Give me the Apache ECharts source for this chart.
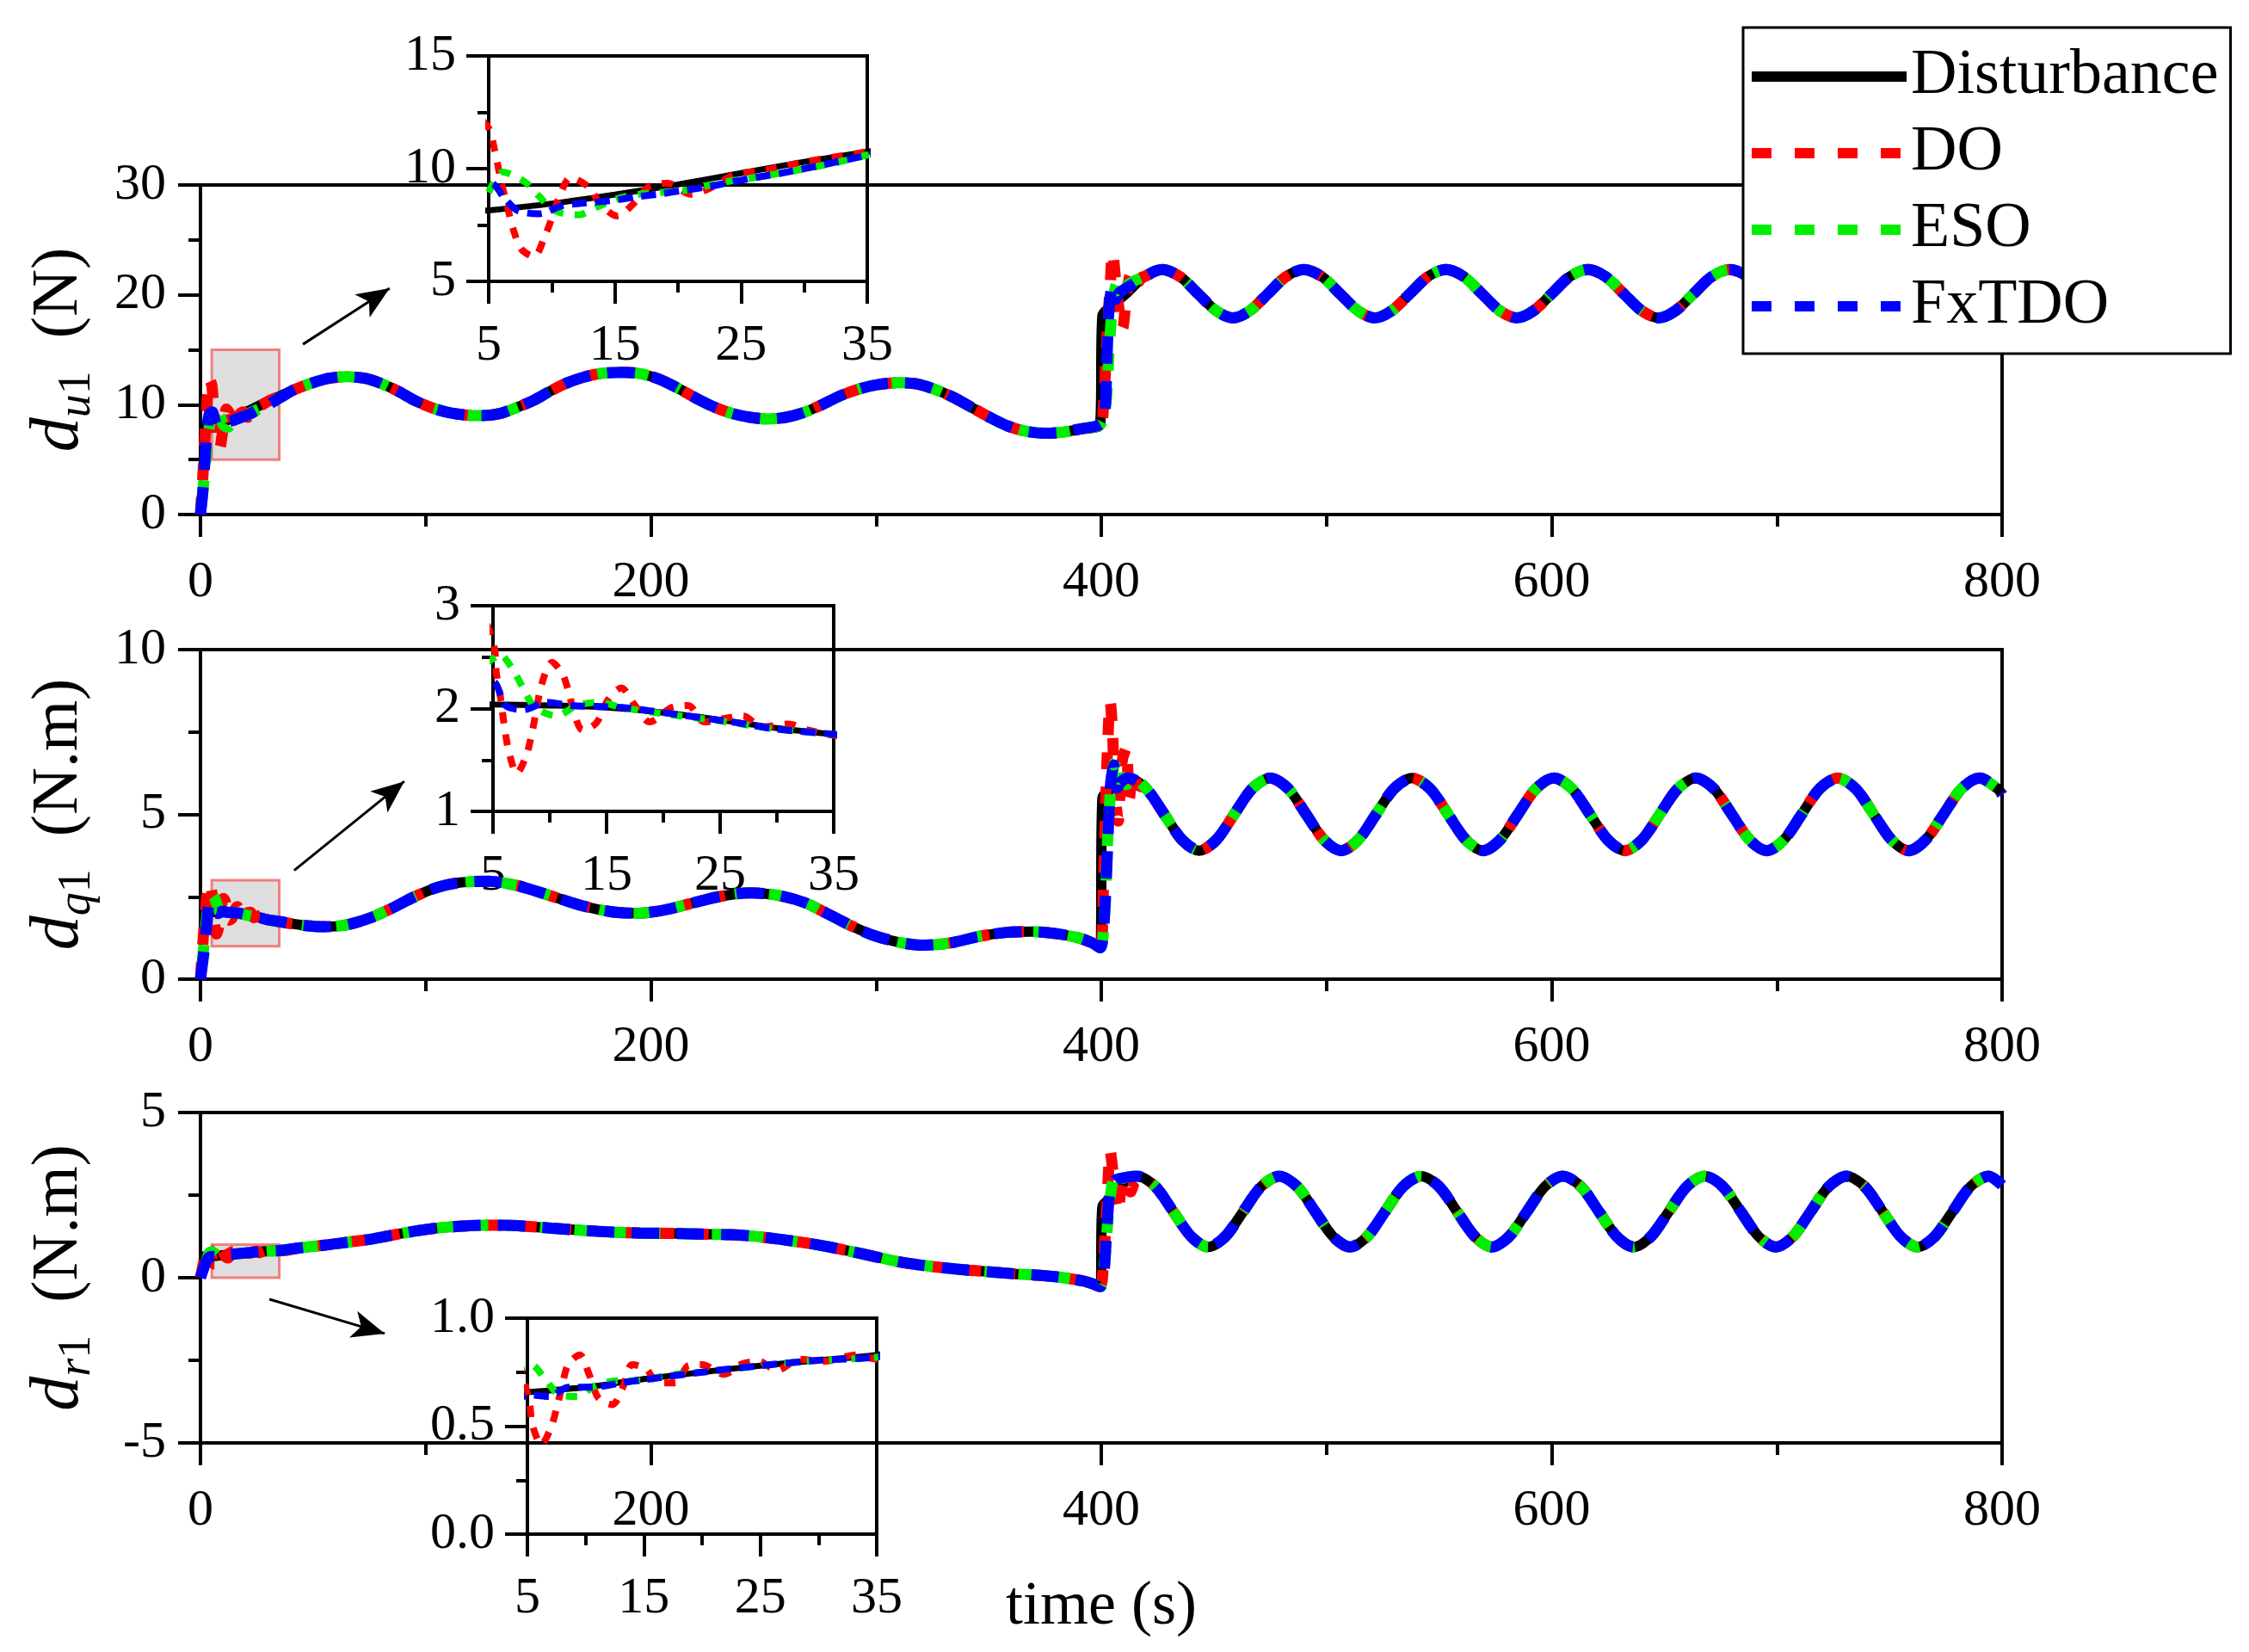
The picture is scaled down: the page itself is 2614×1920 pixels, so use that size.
<!DOCTYPE html>
<html>
<head>
<meta charset="utf-8">
<script src="https://cdn.jsdelivr.net/npm/echarts@6/dist/echarts.min.js"></script>
<style>
  html, body { margin: 0; padding: 0; background: #fff; }
  #chart { width: 2614px; height: 1920px; }
</style>
</head>
<body>
<div id="chart"></div>
<script>
const FONT = 'Liberation Serif';
const names = ['Disturbance', 'DO', 'ESO', 'FxTDO'];
const colors = ['#000000', '#ff0000', '#00ee00', '#0000ff'];

// ---- d_u1 (N) ----
const tU = [0,5,10,15,20,25,30,35,42,50,57,65,73,80,88,95,103,110,118,125,133,140,148,155,163,170,178,188,196,204,212,220,228,236,244,252,260,268,276,284,292,300,310,318,326,334,342,350,358,366,375,383,391,399.5,
  400.5,404,411,419,427,435,443,451,458.5,466,474,482,490,498,506,514,521.5,529,537,545,553,561,569,577,584.5,592,600,608,616,624,632,640,647.5,655,663,671,679,687,695,703,710.5,718,726,734,742,750,758,766,773.5,781,789,797,800];
const distU = [7.9,8.15,8.45,8.85,9.3,9.8,10.3,10.75,11.4,12.0,12.4,12.55,12.4,11.95,11.2,10.4,9.7,9.3,9.05,9.0,9.2,9.7,10.4,11.2,12.0,12.5,12.85,12.95,12.8,12.3,11.5,10.6,9.8,9.2,8.85,8.7,8.85,9.3,10.0,10.8,11.4,11.8,12.0,11.9,11.4,10.7,9.8,8.9,8.1,7.6,7.4,7.5,7.8,8.2,
  18.1,18.9,20.1,21.65,22.3,21.65,20.1,18.55,17.9,18.55,20.1,21.65,22.3,21.65,20.1,18.55,17.9,18.55,20.1,21.65,22.3,21.65,20.1,18.55,17.9,18.55,20.1,21.65,22.3,21.65,20.1,18.55,17.9,18.55,20.1,21.65,22.3,21.65,20.1,18.55,17.9,18.55,20.1,21.65,22.3,21.65,20.1,18.55,17.9,18.55,20.1,21.65,21.95];
const doU0 = [[0,0],[1.5,5],[3,10.5],[4,12.3],[5,11.8],[5.5,10.74],[6,9.4],[6.5,8.27],[6.95,7.3],[7.6,6.42],[8.6,6.1],[9.4,6.93],[10.1,7.95],[10.6,8.77],[11.5,9.6],[13,9.15],[13.8,8.46],[15.2,7.9],[16.5,8.46],[17.7,9.2],[19.2,9.35],[21,8.86],[22.4,9.1],[24.5,9.73],[27,9.95],[30,10.3],[35,10.75]];
const esoU0 = [[0,0],[1.5,3],[2.5,5.3],[3.5,7.5],[5,8.96],[6.1,9.85],[7.9,9.4],[9,8.77],[10.2,8.14],[12.1,7.95],[13.6,8.3],[15.2,8.67],[17,8.87],[19,8.96],[21.3,9.1],[23.1,9.35],[26.7,9.66],[32,10.2],[35,10.6]];
const fxU0 = [[0,0],[1,2],[2,5],[3,8],[4,9.2],[5.2,9.35],[6.3,8.65],[7.3,8.14],[9,8.0],[10.9,8.37],[12.7,8.48],[14.7,8.58],[16.75,8.75],[18.6,8.88],[20.6,9.05],[22.4,9.2],[24.2,9.4],[26.1,9.6],[28.1,9.79],[31.5,10.17],[34.9,10.58]];
const doU1 = [[399.5,8.2],[401,10],[402.5,16],[404,21],[405,23.8],[407,20],[409.5,17],[411,19.5],[413,21.8],[415,20.8],[418,21.6]];
const esoU1 = [[399.5,8.2],[402,10],[403.5,15],[405,19],[407,21],[409,20.3],[411,20.8],[415,21.3]];
const fxU1 = [[399.5,8.2],[401.5,9],[402.5,14],[403.5,19],[405,20.8],[406.5,19.6],[408,20.2],[411,20.6],[415,21.1]];

// ---- d_q1 (N.m) ----
const tQ = [0,5,10,15,20,25,30,35,45,55,65,75,85,95,105,115,128,140,150,160,170,182,194,206,218,230,244,256,268,278,288,298,310,321,333,346,358,369,380,390,396,399.5,
  400.5,404,412,420,428,436,443.5,451,459,467,475,483,491,499,506.5,514,522,530,538,546,554,562,569.5,577,585,593,601,609,617,625,632.5,640,648,656,664,672,680,688,695.5,703,711,719,727,735,743,751,758.5,766,774,782,790,798,800];
const distQ = [2.05,2.04,2.03,2.01,1.96,1.89,1.81,1.75,1.64,1.59,1.65,1.85,2.15,2.5,2.78,2.93,2.97,2.85,2.65,2.43,2.22,2.05,2.0,2.1,2.3,2.5,2.62,2.55,2.33,2.0,1.65,1.35,1.12,1.03,1.1,1.3,1.42,1.44,1.38,1.25,1.1,0.95,
  5.5,5.75,6.1,5.78,5.0,4.22,3.9,4.22,5.0,5.78,6.1,5.78,5.0,4.22,3.9,4.22,5.0,5.78,6.1,5.78,5.0,4.22,3.9,4.22,5.0,5.78,6.1,5.78,5.0,4.22,3.9,4.22,5.0,5.78,6.1,5.78,5.0,4.22,3.9,4.22,5.0,5.78,6.1,5.78,5.0,4.22,3.9,4.22,5.0,5.78,6.1,5.78,5.6];
const doQ0 = [[0,0],[1.5,1.5],[3,2.6],[4,2.9],[5.1,2.6],[5.3,2.34],[5.7,2.08],[6,1.83],[6.4,1.58],[7.1,1.37],[7.95,1.55],[8.5,1.8],[9.3,2.24],[10.2,2.45],[11.1,2.34],[11.7,2.15],[12.1,1.97],[12.9,1.79],[14.1,1.86],[15.1,2.08],[16.3,2.2],[17.5,2.03],[18.8,1.87],[20.7,2.01],[22.2,2.03],[23.6,1.87],[25.2,1.9],[27,1.93],[28.7,1.82],[31,1.85],[32.8,1.79],[35,1.74]];
const esoQ0 = [[0,0],[1.5,1.0],[3,2.0],[4,2.4],[5.2,2.5],[5.55,2.53],[6.7,2.39],[7.6,2.21],[8.7,2.01],[10.6,1.93],[12.4,2.03],[14.4,2.06],[16.3,2.01],[20,1.95],[25,1.88],[30,1.8],[35,1.75]];
const fxQ0 = [[0,0],[1.5,0.8],[3,1.8],[4,2.3],[5.2,2.25],[6.1,2.03],[7.7,1.99],[9.7,2.06],[11.9,2.03],[16.4,2.01],[18.7,1.98],[22,1.93],[26,1.87],[30,1.8],[35,1.75]];
const doQ1 = [[399.5,0.95],[401,3],[402.5,6.5],[404,8.4],[405,7.5],[406,5.8],[407.5,4.8],[409,6.5],[411,7.0],[412.5,5.5],[414,6.3],[416,5.9],[420,5.78]];
const esoQ1 = [[399.5,0.95],[401.5,2],[403,4.5],[405,6.3],[407,6.7],[409,6.0],[411,5.9],[414,6.1],[420,5.78]];
const fxQ1 = [[399.5,0.95],[401,1.5],[402.5,3.5],[404,5.8],[405.5,6.5],[407,5.8],[409,6.0],[412,6.1],[420,5.78]];

// ---- d_r1 (N.m) ----
const tR = [0,5,10,15,20,25,30,35,45,57,66,76,86,97,106,116,126,135,146,156,170,183,196,210,223,236,245,253,262,271,280,290,300,311,320,330,341,352,361,371,381,392,396,399.5,
  400.5,404,408,416,424,432,440,447.5,455,463,471,479,487,495,503,510.5,518,526,534,542,550,558,566,573.5,581,589,597,605,613,621,629,636.5,644,652,660,668,676,684,692,699.5,707,715,723,731,739,747,755,762.5,770,778,786,794,800];
const distR = [0.63,0.657,0.68,0.718,0.75,0.78,0.805,0.83,0.91,1.0,1.08,1.17,1.3,1.43,1.51,1.56,1.59,1.59,1.55,1.5,1.43,1.38,1.35,1.34,1.32,1.3,1.26,1.2,1.12,1.03,0.92,0.78,0.63,0.47,0.38,0.3,0.23,0.17,0.12,0.08,0.02,-0.1,-0.18,-0.27,
  2.15,2.4,2.76,3.07,2.76,2.0,1.24,0.93,1.24,2.0,2.76,3.07,2.76,2.0,1.24,0.93,1.24,2.0,2.76,3.07,2.76,2.0,1.24,0.93,1.24,2.0,2.76,3.07,2.76,2.0,1.24,0.93,1.24,2.0,2.76,3.07,2.76,2.0,1.24,0.93,1.24,2.0,2.76,3.07,2.76,2.0,1.24,0.93,1.24,2.0,2.76,3.07,2.8];
const doR0 = [[0,0],[1.5,0.5],[3,0.95],[4,0.85],[5.2,0.6],[5.4,0.51],[6.2,0.415],[7,0.49],[7.5,0.58],[7.95,0.68],[8.5,0.785],[9.5,0.83],[10.3,0.74],[11.1,0.63],[12.3,0.6],[13.2,0.68],[14,0.785],[15.2,0.765],[16.2,0.7],[17.7,0.7],[18.8,0.78],[20,0.785],[21.9,0.74],[23.5,0.79],[24.9,0.8],[26.4,0.758],[28.4,0.81],[30.4,0.8],[33.3,0.83],[35,0.81]];
const esoR0 = [[0,0],[1.5,0.3],[3,0.6],[4,0.75],[5.3,0.785],[6.5,0.72],[7.75,0.645],[9.35,0.637],[10.7,0.684],[12.7,0.71],[14.7,0.71],[17,0.735],[20,0.75],[25,0.78],[30,0.805],[35,0.82]];
const fxR0 = [[0,0],[1.5,0.3],[3,0.55],[4,0.62],[5.3,0.644],[6.9,0.637],[8.5,0.68],[10.5,0.68],[13,0.7],[15,0.715],[20,0.75],[25,0.78],[30,0.805],[35,0.82]];
const doR1 = [[399.5,-0.27],[401,0.5],[402.5,2.2],[404,3.82],[405,3.3],[406,2.5],[407.5,2.0],[409,2.8],[411,3.0],[413,2.6],[415,2.9],[418,3.0]];
const esoR1 = [[399.5,-0.27],[401.5,0.5],[403,1.8],[405,2.9],[407,3.2],[409,3.0],[412,3.05],[416,3.07]];
const fxR1 = [[399.5,-0.27],[401,0.0],[402.5,1.5],[404,2.7],[406,2.95],[408,3.0],[412,3.05],[416,3.07]];

// zoom boxes [x0, y0, x1, y1] and arrows [[x,y] start, [x,y] end] in data units
const boxU = [5, 5, 35, 15], arrowU = [[45.5, 15.5], [84, 20.6]];
const boxQ = [5, 1, 35, 3], arrowQ = [[41.6, 3.3], [90.5, 6.0]];
const boxR = [5, 0, 35, 1], arrowR = [[30.6, -0.65], [81.8, -1.69]];

const yTicksMain = [[0, 30, 10], [0, 10, 5], [-5, 5, 5]];
const yTicksInset = [[5, 15, 5], [1, 3, 1], [0, 1, 0.5]];
const insetXLabels = [5, 15, 25, 35];
const insetXMinor = [10, 20, 30];

const zip = (t, v) => t.map((x, i) => [x, v[i]]);
const between = (pts, a, b) => pts.filter(p => p[0] > a && p[0] < b);
const observer = (dist, start, jump) =>
  start.concat(between(dist, 35, 399), jump, between(dist, jump[jump.length - 1][0], 801));

const panels = [
  { dist: zip(tU, distU), obs: [[doU0, doU1], [esoU0, esoU1], [fxU0, fxU1]], box: boxU, arrow: arrowU,
    name: '{i|d}{si|u}{s|1}{n|  (N)}' },
  { dist: zip(tQ, distQ), obs: [[doQ0, doQ1], [esoQ0, esoQ1], [fxQ0, fxQ1]], box: boxQ, arrow: arrowQ,
    name: '{i|d}{si|q}{s|1}{n|  (N.m)}' },
  { dist: zip(tR, distR), obs: [[doR0, doR1], [esoR0, esoR1], [fxR0, fxR1]], box: boxR, arrow: arrowR,
    name: '{i|d}{si|r}{s|1}{n|  (N.m)}' },
];

const mainGrids = [
  { left: 233, top: 215, width: 2094, height: 383 },
  { left: 233, top: 755, width: 2094, height: 383 },
  { left: 233, top: 1293, width: 2094, height: 384 },
];
const insetGrids = [
  { left: 568, top: 65, width: 440, height: 262 },
  { left: 573, top: 704, width: 396, height: 239 },
  { left: 613, top: 1532, width: 406, height: 251 },
];

const black = { color: '#000', width: 4 };
const labelStyle = { fontFamily: FONT, fontSize: 60, color: '#000' };

const grid = mainGrids.concat(insetGrids).map(g => Object.assign({
  show: true, borderColor: '#000', borderWidth: 4, backgroundColor: 'transparent', containLabel: false
}, g));

const xAxis = [];
const yAxis = [];
for (let i = 0; i < 3; i++) {
  xAxis.push({
    gridIndex: i, type: 'value', min: 0, max: 800, interval: 200,
    axisLine: { onZero: false, lineStyle: black },
    axisTick: { length: 26, lineStyle: black },
    minorTick: { show: true, splitNumber: 2, length: 14, lineStyle: black },
    splitLine: { show: false }, minorSplitLine: { show: false },
    axisLabel: Object.assign({ margin: 49 }, labelStyle),
    name: i === 2 ? 'time (s)' : '', nameLocation: 'middle', nameGap: 155,
    nameTextStyle: { fontFamily: FONT, fontSize: 72, color: '#000' }
  });
  const [mn, mx, step] = yTicksMain[i];
  yAxis.push({
    gridIndex: i, type: 'value', min: mn, max: mx, interval: step,
    axisLine: { onZero: false, lineStyle: black },
    axisTick: { length: 26, lineStyle: black },
    minorTick: { show: true, splitNumber: 2, length: 14, lineStyle: black },
    splitLine: { show: false },
    axisLabel: Object.assign({ margin: 40 }, labelStyle),
    name: panels[i].name, nameLocation: 'middle', nameRotate: 90, nameGap: 116,
    nameTextStyle: {
      fontFamily: FONT, fontSize: 76, color: '#000',
      rich: {
        i: { fontFamily: FONT, fontSize: 80, fontStyle: 'italic', color: '#000' },
        si: { fontFamily: FONT, fontSize: 54, fontStyle: 'italic', color: '#000', verticalAlign: 'bottom', padding: [42, 0, 0, 0] },
        s: { fontFamily: FONT, fontSize: 54, color: '#000', verticalAlign: 'bottom', padding: [42, 0, 0, 0] },
        n: { fontFamily: FONT, fontSize: 76, color: '#000' }
      }
    }
  });
}
for (let i = 0; i < 3; i++) {
  xAxis.push({
    gridIndex: 3 + i, type: 'value', min: 5, max: 35, position: 'bottom',
    axisLine: { onZero: false, lineStyle: black },
    axisTick: { length: 26, lineStyle: black, customValues: insetXLabels },
    axisLabel: Object.assign({ margin: 45, customValues: insetXLabels }, labelStyle),
    splitLine: { show: false }
  });
  const [mn, mx, step] = yTicksInset[i];
  yAxis.push({
    gridIndex: 3 + i, type: 'value', min: mn, max: mx, interval: step,
    axisLine: { onZero: false, lineStyle: black },
    axisTick: { length: 26, lineStyle: black },
    minorTick: { show: true, splitNumber: 2, length: 13, lineStyle: black },
    splitLine: { show: false },
    axisLabel: Object.assign({ margin: 38, formatter: v => (i === 2 ? v.toFixed(1) : String(v)) }, labelStyle)
  });
}
for (let i = 0; i < 3; i++) {
  xAxis.push({
    gridIndex: 3 + i, type: 'value', min: 5, max: 35, position: 'bottom', offset: 0,
    axisLine: { show: false, onZero: false },
    axisTick: { length: 13, lineStyle: black, customValues: insetXMinor },
    axisLabel: { show: false },
    splitLine: { show: false }
  });
}

// red and green share the gaps of the blue dashes
function style(k, inset) {
  if (k === 0) return { color: '#000', width: inset ? 7 : 12, type: 'solid' };
  if (inset) {
    const pat = [null, [13, 13], [13, 13], [17, 10]][k];
    return { color: colors[k], width: 8, type: pat, dashOffset: [0, 0, 13, 0][k] };
  }
  const pat = [null, [20, 20], [20, 20], [32, 20]][k];
  return { color: colors[k], width: 13, type: pat, dashOffset: [0, 0, 20, 0][k] };
}

const series = [];
panels.forEach((p, i) => {
  const lines = [p.dist].concat(p.obs.map(o => observer(p.dist, o[0], o[1])));
  lines.forEach((data, k) => {
    series.push({
      name: names[k], type: 'line', xAxisIndex: i, yAxisIndex: i, data,
      symbol: 'none', smooth: 0.3, lineStyle: style(k, false), itemStyle: { color: colors[k] }
    });
  });
  series.push({
    type: 'line', xAxisIndex: i, yAxisIndex: i, data: [], z: 5, symbol: 'none', silent: true,
    markArea: {
      silent: true,
      itemStyle: { color: 'rgba(205,205,205,0.65)', borderColor: 'rgba(240,90,90,0.75)', borderWidth: 3 },
      data: [[{ coord: [p.box[0], p.box[1]] }, { coord: [p.box[2], p.box[3]] }]]
    },
    markLine: {
      silent: true, symbol: ['none', 'arrow'], symbolSize: [24, 38],
      label: { show: false },
      lineStyle: { color: '#000', width: 3, type: 'solid' },
      data: [[{ coord: p.arrow[0] }, { coord: p.arrow[1] }]]
    }
  });
  lines.forEach((data, k) => {
    series.push({
      name: names[k], type: 'line', xAxisIndex: 3 + i, yAxisIndex: 3 + i,
      data: data.filter(d => d[0] <= 45), z: 6,
      symbol: 'none', smooth: 0.3, lineStyle: style(k, true), itemStyle: { color: colors[k] }
    });
  });
});

const legendDash = { type: [23, 27], dashOffset: 0 };
const chart = echarts.init(document.getElementById('chart'));
chart.setOption({
  animation: false,
  backgroundColor: '#fff',
  grid, xAxis, yAxis, series,
  legend: {
    data: [
      { name: 'Disturbance', lineStyle: { type: 'solid' } },
      { name: 'DO', lineStyle: legendDash },
      { name: 'ESO', lineStyle: legendDash },
      { name: 'FxTDO', lineStyle: legendDash }
    ],
    orient: 'vertical', left: 2026, top: 32,
    backgroundColor: '#fff', borderColor: '#000', borderWidth: 3,
    padding: [20, 14, 18, 4], itemGap: 15, itemWidth: 180, itemHeight: 16,
    lineStyle: { width: 12 }, itemStyle: { opacity: 0 },
    selectedMode: false, z: 20,
    textStyle: { fontFamily: FONT, fontSize: 74, color: '#000' }
  }
});
</script>
</body>
</html>
